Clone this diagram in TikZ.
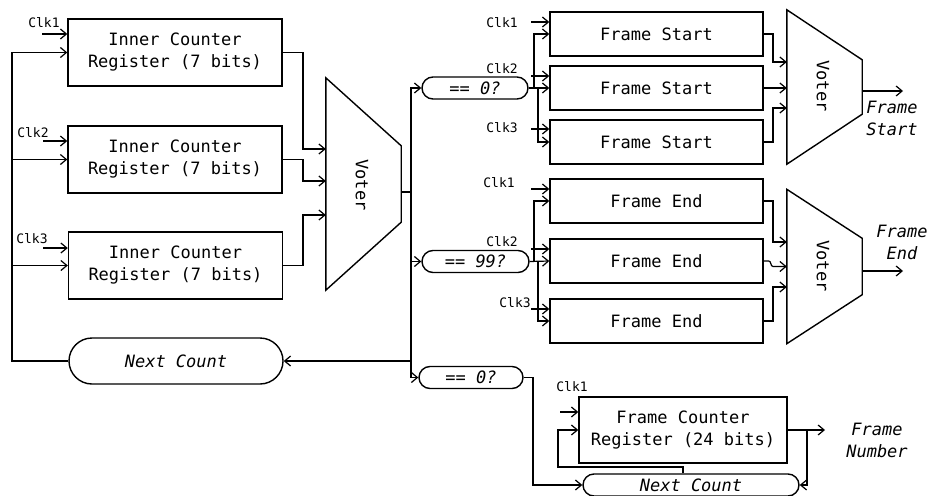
\documentclass[tikz,border=0pt]{standalone}
\usepackage{fontspec}
\setmonofont{DejaVu Sans Mono}
\usetikzlibrary{arrows.meta,positioning,shapes.misc,calc}
\newcommand{\boxfont}{\fontsize{17}{22}\selectfont\ttfamily}
\newcommand{\sigfont}{\fontsize{17}{22}\selectfont\ttfamily\itshape}
\newcommand{\clkfont}{\fontsize{13}{15}\selectfont\ttfamily}

\begin{document}
\begin{tikzpicture}[x=1pt,y=-1pt,
  reg/.style={draw, line width=1.4pt, minimum width=214pt, minimum height=67pt, align=center, font=\boxfont},
  fbox/.style={draw, line width=1.4pt, minimum width=213pt, minimum height=44pt, font=\boxfont},
  pill/.style={draw, rounded rectangle, line width=1.4pt, minimum height=22pt, inner sep=0pt, font=\sigfont},
  vbox/.style={minimum width=75pt, inner sep=0pt},
  vshape/.style={line width=1.4pt},
  vtext/.style={rotate=-90, font=\boxfont},
  wire/.style={line width=1.2pt},
  arr/.style={wire, -{Straight Barb[length=6pt,width=10pt]}},
  clklbl/.style={font=\clkfont, inner sep=0pt},
  outlbl/.style={font=\sigfont, align=center}]
\useasboundingbox (0,0) rectangle (928,495);

% Inner counter registers
\node[reg] (ic1) at (175,52.5) {Inner Counter\\Register (7 bits)};
\node[reg] (ic2) at (175,159.5) {Inner Counter\\Register (7 bits)};
\node[reg] (ic3) at (175.5,265.5) {Inner Counter\\Register (7 bits)};
\node[pill, minimum width=214pt, minimum height=46pt] (nc1) at (176,361) {Next Count};

% Clocks
\node[clklbl] (ck1) at (44,23) {Clk1};
\node[clklbl] (ck2) at (33,133) {Clk2};
\node[clklbl] (ck3) at (32,239) {Clk3};
\coordinate (c1) at (42,34);
\coordinate (c2) at (43,141);
\coordinate (c3) at (43,248);
\draw[arr] (c1) -- (c1 -| ic1.west);
\draw[arr] (c2) -- (c2 -| ic2.west);
\draw[arr] (c3) -- (c3 -| ic3.west);

% Feedback from next count
\coordinate (fb) at (12,0);
\draw[arr] (nc1.west) -| (fb |- ic1.west) -- (ic1.west);
\draw[arr] (fb |- ic2.west) -- (ic2.west);
\draw[arr] (fb |- ic3.west) -- (ic3.west);

% Voter for the inner counter
\node[vbox, minimum height=212pt] (v1) at (363.5,184) {};
\draw[vshape] (v1.north west) -- ($(v1.north east)+(0,68)$) -- ($(v1.south east)+(0,-68)$) -- (v1.south west) -- cycle;
\node[vtext] (v1t) at (362,185) {Voter};
\coordinate (j1) at (303,0);
\coordinate (v1i1) at ($(v1.west)+(0,-35)$);
\coordinate (v1i2) at ($(v1.west)+(0,-3)$);
\coordinate (v1i3) at ($(v1.west)+(0,31)$);
\draw[arr] (ic1.east) -| (j1 |- v1i1) -- (v1i1);
\draw[arr] (ic2.east) -| (j1 |- v1i2) -- (v1i2);
\draw[arr] (ic3.east) -| (j1 |- v1i3) -- (v1i3);

% Compare bus
\node[pill, minimum width=106pt] (eq0) at (475,88) {== 0?};
\node[pill, minimum width=107pt] (eq99) at (475.5,261.5) {== 99?};
\node[pill, minimum width=104pt] (eq0b) at (471,377.5) {== 0?};
\coordinate (bus) at (411,0);
\coordinate (v1o) at ($(v1.east)+(0,8)$);
\draw[wire] (v1o) -- (v1o -| bus);
\draw[arr] (v1o -| bus) |- (eq0.west);
\draw[arr] (v1o -| bus) |- (eq0b.west);
\draw[arr] (bus |- eq99.west) -- (eq99.west);
\draw[arr] (bus |- nc1.east) -- (nc1.east);

% Frame start
\node[fbox] (fs1) at (656.5,34) {Frame Start};
\node[fbox] (fs2) at (656.5,88) {Frame Start};
\node[fbox] (fs3) at (656.5,142) {Frame Start};
\node[clklbl] (fsk1) at (502,23) {Clk1};
\node[clklbl] (fsk2) at (502,69) {Clk2};
\node[clklbl] (fsk3) at (502,128) {Clk3};
\coordinate (fsc1) at (531,22);
\coordinate (fsc2) at (531,76);
\coordinate (fsc3) at (531,129);
\draw[arr] (fsc1) -- (fsc1 -| fs1.west);
\draw[arr] (fsc2) -- (fsc2 -| fs2.west);
\draw[arr] (fsc3) -- (fsc3 -| fs3.west);
\coordinate (sa) at (534,0);
\coordinate (sb) at (538,0);
\draw[arr] (eq0.east) -- (fs2.west);
\draw[arr] (sa |- eq0.east) |- (fs1.west);
\draw[arr] (sb |- eq0.east) |- (fs3.west);

% Frame end
\node[fbox] (fe1) at (656.5,201) {Frame End};
\node[fbox] (fe2) at (656.5,261) {Frame End};
\node[fbox] (fe3) at (656.5,321) {Frame End};
\node[clklbl] (fek1) at (499,183) {Clk1};
\node[clklbl] (fek2) at (502,242) {Clk2};
\node[clklbl] (fek3) at (515,303) {Clk3};
\coordinate (fec1) at (531,189);
\coordinate (fec2) at (531,249);
\coordinate (fec3) at (531,309);
\draw[arr] (fec1) -- (fec1 -| fe1.west);
\draw[arr] (fec2) -- (fec2 -| fe2.west);
\draw[arr] (fec3) -- (fec3 -| fe3.west);
\draw[arr] (eq99.east) -- (fe2.west);
\draw[arr] (sa |- eq99.east) |- (fe1.west);
\draw[arr] (sb |- eq99.east) |- (fe3.west);

% Voters for start and end
\node[vbox, minimum height=154pt] (v2) at (824.5,87) {};
\draw[vshape] (v2.north west) -- ($(v2.north east)+(0,50)$) -- ($(v2.south east)+(0,-50)$) -- (v2.south west) -- cycle;
\node[vtext] (v2t) at (823,86) {Voter};
\node[vbox, minimum height=154pt] (v3) at (824.5,266.5) {};
\draw[vshape] (v3.north west) -- ($(v3.north east)+(0,49)$) -- ($(v3.south east)+(0,-49)$) -- (v3.south west) -- cycle;
\node[vtext] (v3t) at (823,266) {Voter};
\coordinate (rj) at (773,0);
\coordinate (v2i1) at ($(v2.west)+(0,-25)$);
\coordinate (v2i3) at ($(v2.west)+(0,21)$);
\coordinate (v3i1) at ($(v3.west)+(0,-24.5)$);
\coordinate (v3i2) at ($(v3.west)+(0,0)$);
\coordinate (v3i3) at ($(v3.west)+(0,20.5)$);
\draw[arr] (fs1.east) -| (rj |- v2i1) -- (v2i1);
\draw[arr] (fs2.east) -- (fs2.east -| v2.west);
\draw[arr] (fs3.east) -| (rj |- v2i3) -- (v2i3);
\draw[arr] (fe1.east) -| (rj |- v3i1) -- (v3i1);
\draw[arr] (fe2.east) -- ++(5,0) to[out=0,in=180] (rj |- v3i2) -- (v3i2);
\draw[arr] (fe3.east) -| (rj |- v3i3) -- (v3i3);
\coordinate (fso) at (903,91);
\coordinate (feo) at (903,271);
\draw[arr] (fso -| v2.east) -- (fso);
\draw[arr] (feo -| v3.east) -- (feo);
\node[outlbl] (fsl) at (892,118) {Frame\\Start};
\node[outlbl] (fel) at (902,242) {Frame\\End};

% Frame counter
\node[reg, minimum width=208pt, minimum height=66pt] (fc) at (683,430) {Frame Counter\\Register (24 bits)};
\node[pill, minimum width=216pt] (nc2) at (691,485) {Next Count};
\node[clklbl] (fck) at (572,387) {Clk1};
\coordinate (fcc) at (560,412);
\draw[arr] (fcc) -- (fcc -| fc.west);
\coordinate (fcl) at (558,467);
\draw[arr] (fc.south |- nc2.north) |- (fcl) |- (fc.west);
\coordinate (nj) at (533,0);
\draw[arr] (eq0b.east) -| (nj |- nc2.west) -- (nc2.west);
\coordinate (fno) at (825,430);
\coordinate (fnj) at (807,0);
\draw[arr] (fc.east) -- (fno);
\draw[arr] (fnj |- fc.east) |- (nc2.east);
\node[outlbl] (fnl) at (877,440) {Frame\\Number};
\end{tikzpicture}
\end{document}
